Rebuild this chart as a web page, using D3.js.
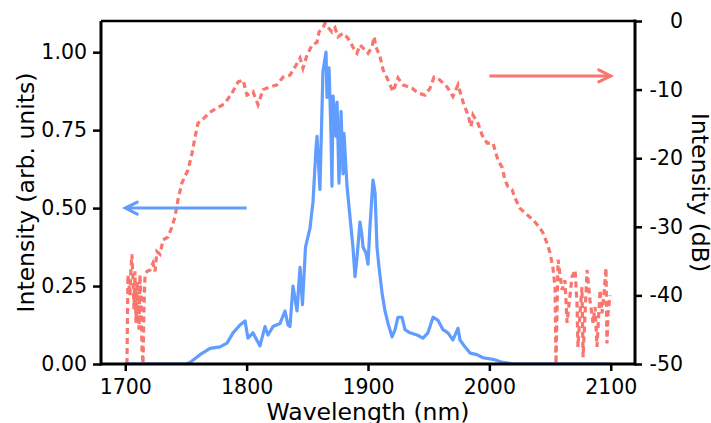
<html>
<head>
<script src="https://d3js.org/d3.v7.min.js"></script>
<style>
  body { margin: 0; background: #fff; }
  text { font-family: "DejaVu Sans", sans-serif; fill: #000; }
</style>
</head>
<body>
<script>
// blue: linear spectrum (left axis)
var blueWl  = [1700, 1750, 1753.3, 1761.6, 1769.8, 1778.1, 1783.8, 1788.8, 1794.5, 1798.7, 1801.1, 1805.2, 1811.0, 1815.1, 1817.6, 1821.7, 1827.5, 1831.6, 1834.1, 1835.7, 1838.2, 1841.5, 1844.0, 1846.0, 1848.5, 1852.2, 1854.7, 1857.1, 1858.0, 1860.4, 1862.9, 1865.4, 1866.2, 1867.9, 1869.5, 1870.3, 1871.2, 1873.6, 1874.5, 1876.1, 1877.8, 1879.4, 1880.2, 1882.7, 1885.2, 1887.6, 1889.3, 1890.9, 1893.4, 1895.1, 1895.9, 1898.4, 1900.0, 1901.6, 1904.1, 1905.8, 1907.4, 1909.1, 1911.5, 1914.0, 1916.5, 1919.8, 1922.3, 1924.7, 1928.0, 1930.5, 1934.6, 1940.4, 1945.3, 1949.4, 1953.6, 1957.7, 1961.8, 1965.9, 1970.0, 1974.2, 1975.8, 1979.9, 1984.1, 1989.8, 1994.8, 2003.0, 2011.2, 2020, 2100];
var blueVal = [0, 0, 0.005, 0.03, 0.05, 0.055, 0.067, 0.10, 0.125, 0.138, 0.083, 0.10, 0.058, 0.12, 0.093, 0.12, 0.13, 0.17, 0.125, 0.12, 0.25, 0.17, 0.31, 0.19, 0.375, 0.436, 0.52, 0.69, 0.73, 0.56, 0.94, 1.0, 0.855, 0.95, 0.74, 0.57, 0.86, 0.73, 0.84, 0.58, 0.81, 0.61, 0.74, 0.57, 0.47, 0.375, 0.28, 0.34, 0.455, 0.41, 0.375, 0.355, 0.32, 0.44, 0.59, 0.55, 0.375, 0.31, 0.23, 0.17, 0.13, 0.087, 0.11, 0.15, 0.15, 0.11, 0.10, 0.093, 0.083, 0.10, 0.15, 0.14, 0.11, 0.10, 0.077, 0.115, 0.077, 0.055, 0.035, 0.03, 0.02, 0.015, 0.005, 0, 0];

// red: log spectrum in dB (right axis)
var redWl = [1701.4, 1702.2, 1703.9, 1704.7, 1705.5, 1706.4, 1707.2, 1708.0, 1708.8, 1709.7, 1710.5, 1711.3, 1712.1, 1713.0, 1713.8, 1714.6, 1715.4, 1716.3, 1717.9, 1720.4, 1722.8, 1724.5, 1726.1, 1728.6, 1731.1, 1735.2, 1738.5, 1741.0, 1743.4, 1746.7, 1751.7, 1755.0, 1757.5, 1759.9, 1764.0, 1769.8, 1775.6, 1782.2, 1787.9, 1792.9, 1797.0, 1800.3, 1805.2, 1809.4, 1813.5, 1819.3, 1825.0, 1830.0, 1835.7, 1839.9, 1844.0, 1846.4, 1849.7, 1853.9, 1858.0, 1859.6, 1862.9, 1864.6, 1867.0, 1870.3, 1872.8, 1875.3, 1879.4, 1883.5, 1887.6, 1890.9, 1893.4, 1897.5, 1900.0, 1903.3, 1905.0, 1906.6, 1909.9, 1912.4, 1916.5, 1920.6, 1924.7, 1928.8, 1936.3, 1941.2, 1947.0, 1951.1, 1954.4, 1959.3, 1965.1, 1970.0, 1974.2, 1978.3, 1982.4, 1984.9, 1986.5, 1990.6, 1993.9, 1998.1, 2003.0, 2007.1, 2010.4, 2012.9, 2015.4, 2018.7, 2021.1, 2025.3, 2029.4, 2033.5, 2037.6, 2041.7, 2044.2, 2047.5, 2050.0, 2052.4, 2054.1, 2054.9, 2056.6, 2059.9, 2062.3, 2064.0, 2068.1, 2070.6, 2072.2, 2073.0, 2074.7, 2076.3, 2077.2, 2080.5, 2082.9, 2085.4, 2087.1, 2088.7, 2091.2, 2092.8, 2094.5, 2096.1, 2096.9, 2097.8, 2099.4];
var redDb = [-50, -37, -40, -36, -34, -38, -42, -36.5, -44, -38, -40, -45, -37, -40, -48, -50, -42, -37, -36.5, -36.3, -35.3, -36.5, -33.6, -34, -31.9, -31.5, -30, -28.5, -26.1, -23.6, -21.7, -19.3, -16.9, -14.9, -14.3, -13.3, -12.7, -12, -10.5, -8.9, -8.6, -10.8, -10.3, -12.2, -10, -9.6, -9.3, -8.2, -7.9, -6.7, -5.4, -6.9, -5, -3.5, -3.1, -1.6, -1, -0.3, -0.9, -1.6, -1, -2.3, -1.8, -2.5, -3.8, -4.7, -3.5, -4.2, -4.7, -3.8, -2.3, -3.8, -5.2, -7.1, -8.6, -10.3, -8.3, -9.3, -9.8, -10.5, -10.8, -9.8, -8.2, -8.6, -9.6, -11, -9.3, -11.8, -13.7, -15.4, -13.7, -14.9, -16.6, -17.8, -17.8, -20.3, -21.3, -23.2, -24.2, -24.6, -25.8, -27.3, -28, -28.6, -29.3, -30.2, -30.9, -32.4, -33.8, -36, -38.8, -50, -34.8, -39.2, -37.8, -44, -37.3, -36.3, -41.1, -47.5, -42.6, -38.8, -49, -36.3, -40.7, -44, -41.7, -47.5, -39.2, -42.6, -39.7, -36, -47, -42.6, -40];

var xTicks = [1700, 1800, 1900, 2000, 2100];
var leftTicks = [0, 0.25, 0.5, 0.75, 1.0];
var rightTicks = [0, -10, -20, -30, -40, -50];

var W = 711, H = 423;
var L = 101, R = 635, T = 21, B = 364;
var blue = "#619CFF", red = "#F8766D";
var font = "'DejaVu Sans', sans-serif";

var x = d3.scaleLinear().domain([1680, 2120]).range([L, R]);
var yL = d3.scaleLinear().domain([0, 1.1]).range([B, T]);
var yR = d3.scaleLinear().domain([-50, 0]).range([B, T]);

var svg = d3.select("body").append("svg").attr("width", W).attr("height", H);

svg.append("clipPath").attr("id", "clip").append("rect")
  .attr("x", L).attr("y", T - 2).attr("width", R - L).attr("height", B - T + 2);

var blueData = blueWl.map(function(d, i){ return [d, blueVal[i]]; });
var redData = redWl.map(function(d, i){ return [d, redDb[i]]; });

var lineBlue = d3.line().x(function(d){ return x(d[0]); }).y(function(d){ return yL(d[1]); });
var lineRed = d3.line().x(function(d){ return x(d[0]); }).y(function(d){ return yR(d[1]); });

var g = svg.append("g").attr("clip-path", "url(#clip)");
g.append("path").attr("d", lineRed(redData)).attr("fill", "none")
  .attr("stroke", red).attr("stroke-width", 3.2).attr("stroke-dasharray", "6,4");
g.append("path").attr("d", lineBlue(blueData)).attr("fill", "none")
  .attr("stroke", blue).attr("stroke-width", 3.2).attr("stroke-linejoin", "round");

// arrows
function arrow(x1, x2, yv, col) {
  var dir = x2 > x1 ? 1 : -1;
  svg.append("line").attr("x1", x1).attr("x2", x2).attr("y1", yv).attr("y2", yv)
    .attr("stroke", col).attr("stroke-width", 3);
  svg.append("path")
    .attr("d", "M" + (x2 - dir * 12) + "," + (yv - 6) + "L" + x2 + "," + yv + "L" + (x2 - dir * 12) + "," + (yv + 6))
    .attr("fill", "none").attr("stroke", col).attr("stroke-width", 3).attr("stroke-linecap", "round");
}
arrow(x(1800), x(1700), yL(0.5), blue);
arrow(x(2000), x(2100), yR(-8), red);

// axes
function styleAxis(sel) {
  sel.select(".domain").remove();
  sel.selectAll(".tick line").attr("stroke", "#000").attr("stroke-width", 2.5);
  sel.selectAll(".tick text").attr("font-size", 20.5).attr("fill", "#000").style("font-family", font);
}
svg.append("g").attr("transform", "translate(0," + B + ")")
  .call(d3.axisBottom(x).tickValues(xTicks).tickSize(7).tickPadding(8).tickFormat(d3.format("d")))
  .call(styleAxis);
svg.append("g").attr("transform", "translate(" + L + ",0)")
  .call(d3.axisLeft(yL).tickValues(leftTicks).tickSize(8).tickPadding(6).tickFormat(d3.format(".2f")))
  .call(styleAxis);
var ra = svg.append("g").attr("transform", "translate(" + R + ",0)")
  .call(d3.axisRight(yR).tickValues(rightTicks).tickSize(7).tickPadding(5).tickFormat(function(d){ return String(d); }))
  .call(styleAxis);
ra.selectAll(".tick text").attr("text-anchor", "end").attr("x", 48);

// frame
svg.append("line").attr("x1", L).attr("x2", R).attr("y1", T).attr("y2", T).attr("stroke", "#000").attr("stroke-width", 2.5);
svg.append("line").attr("x1", L).attr("x2", R).attr("y1", B).attr("y2", B).attr("stroke", "#000").attr("stroke-width", 3);
svg.append("line").attr("x1", L).attr("x2", L).attr("y1", T).attr("y2", B + 1.5).attr("stroke", "#000").attr("stroke-width", 3);
svg.append("line").attr("x1", R).attr("x2", R).attr("y1", T - 1.5).attr("y2", B + 1.5).attr("stroke", "#000").attr("stroke-width", 3);

// titles
svg.append("text").attr("x", (L + R) / 2).attr("y", 420).attr("text-anchor", "middle")
  .attr("font-size", 23.5).text("Wavelength (nm)");
svg.append("text").attr("transform", "translate(34," + ((T + B) / 2) + ") rotate(-90)")
  .attr("text-anchor", "middle").attr("font-size", 23.5).text("Intensity (arb. units)");
svg.append("text").attr("transform", "translate(692," + ((T + B) / 2) + ") rotate(90)")
  .attr("text-anchor", "middle").attr("font-size", 23.5).text("Intensity (dB)");
</script>
</body>
</html>
